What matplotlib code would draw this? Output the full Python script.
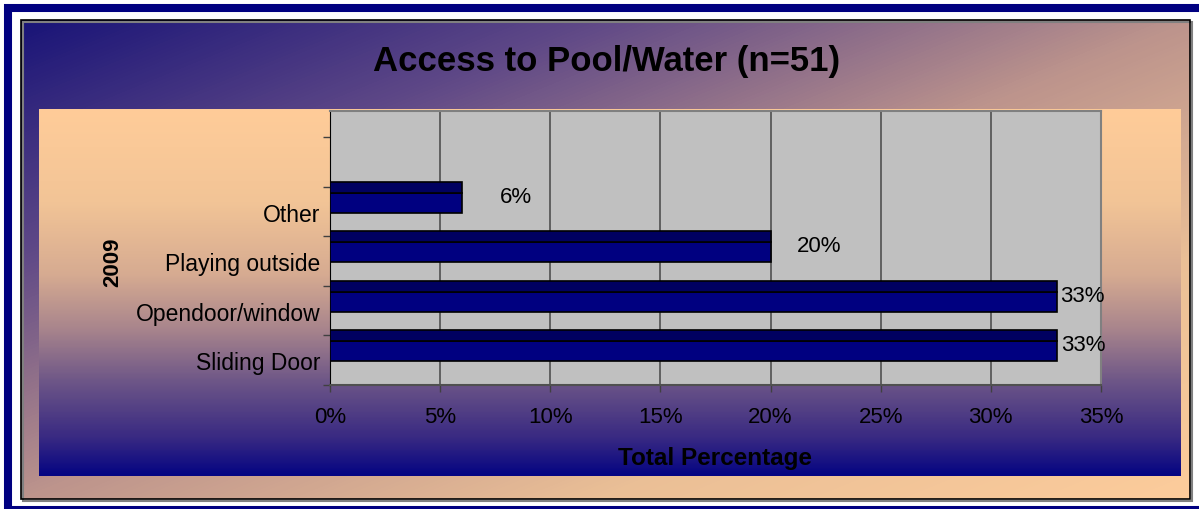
import numpy as np
import matplotlib
matplotlib.use('Agg')
import matplotlib.pyplot as plt
from matplotlib.colors import LinearSegmentedColormap
from matplotlib.patches import Rectangle

plt.rcParams['font.family'] = ['Liberation Sans', 'DejaVu Sans']

# Data
categories = ['Sliding Door', 'Opendoor/window', 'Playing outside', 'Other']
values = [33, 33, 20, 6]
value_labels = ['33%', '33%', '20%', '6%']
label_offsets_px = [4, 3, 26, 38]   # Excel put the labels a bit off the bar end
xticks = [0, 5, 10, 15, 20, 25, 30, 35]

W, H = 1199, 510
fig = plt.figure(figsize=(W / 100, H / 100), dpi=100)
fig.patch.set_facecolor('white')

# background layer in pixel coords
bg = fig.add_axes([0, 0, 1, 1], zorder=-1)
bg.axis('off')

navy = '#000080'

# chart area, diagonal gradient
outer_cmap = LinearSegmentedColormap.from_list('outer', [
    (0.0, (0.10, 0.08, 0.47)),
    (0.25, (0.38, 0.29, 0.53)),
    (0.5, (0.74, 0.58, 0.55)),
    (0.75, (0.92, 0.75, 0.59)),
    (1.0, (0.99, 0.80, 0.61))])
x0, x1, y0, y1 = 21, 1190, 21, 500
u = np.linspace(0, 1, 300)
v = np.linspace(0, 1, 150)
grad = 0.5 * (u[None, :] + v[:, None])
bg.imshow(grad, cmap=outer_cmap, extent=(x0, x1, y1, y0), aspect='auto', interpolation='bilinear')

# plot area, vertical gradient
inner_cmap = LinearSegmentedColormap.from_list('inner', [
    (0.0, (1.00, 0.80, 0.60)),
    (0.25, (0.95, 0.77, 0.59)),
    (0.45, (0.84, 0.67, 0.57)),
    (0.6, (0.66, 0.52, 0.55)),
    (0.75, (0.42, 0.33, 0.53)),
    (0.9, (0.22, 0.16, 0.51)),
    (1.0, (0.02, 0.02, 0.51))])
grad2 = np.linspace(0, 1, 200)[:, None]
bg.imshow(grad2, cmap=inner_cmap, extent=(39, 1181, 477, 110), aspect='auto', interpolation='bilinear')

bg.add_patch(Rectangle((x0 + 2, y0 + 2), x1 - x0, y1 - y0, fill=False, ec='#808080', lw=1.5))
bg.add_patch(Rectangle((x0, y0), x1 - x0, y1 - y0, fill=False, ec='black', lw=1.2))
# navy frame: top, left and bottom only (right side is cut off)
bg.plot([4, W], [8.5, 8.5], color=navy, lw=5.8, solid_capstyle='butt')
bg.plot([8, 8], [4.5, H], color=navy, lw=5.8, solid_capstyle='butt')
bg.plot([4, W], [510.5, 510.5], color=navy, lw=5.8, solid_capstyle='butt')
bg.set_xlim(0, W)
bg.set_ylim(H, 0)

fig.text(607 / W, 1 - 61 / H, 'Access to Pool/Water (n=51)', ha='center', va='center',
         fontsize=25, fontweight='bold', color='black')

# main axes
ax = fig.add_axes([330 / W, 1 - 386 / H, 771 / W, 274 / H])
ax.set_facecolor('#c0c0c0')
ypos = np.arange(len(categories))

ax.barh(ypos + 0.18, values, height=0.41, color='#000080', edgecolor='black', linewidth=1.2, zorder=3)
ax.barh(ypos + 0.495, values, height=0.22, color='#000060', edgecolor='black', linewidth=1.2, zorder=3)

for y, v, lab, off in zip(ypos, values, value_labels, label_offsets_px):
    ax.annotate(lab, (v, y + 0.31), xytext=(off * 0.72, 0), textcoords='offset points',
                ha='left', va='center', fontsize=16, color='black', zorder=4)

ax.set_xlim(0, 35)
ax.set_ylim(-0.5, 5.03)
ax.set_xticks(xticks)
ax.set_xticklabels([f'{t}%' for t in xticks], fontsize=16)
ax.set_yticks(np.arange(-0.5, 5.0, 1.0))
ax.set_yticklabels([])
ax.set_yticks(ypos, minor=True)
ax.set_yticklabels(categories, minor=True, fontsize=16.5)
ax.tick_params(axis='y', which='minor', length=0, pad=7)
ax.tick_params(axis='y', which='major', length=5, color='#404040', width=1)
ax.tick_params(axis='x', length=5, color='#404040', width=1, pad=10)

for t in xticks[1:-1]:
    ax.axvline(t, color='#505050', lw=1.2, zorder=1)

ax.spines['top'].set_color('#808080')
ax.spines['right'].set_color('#808080')
ax.spines['top'].set_linewidth(1.5)
ax.spines['right'].set_linewidth(1.5)
ax.spines['left'].set_color('black')
ax.spines['bottom'].set_color('#505050')
ax.spines['bottom'].set_linewidth(1.5)

fig.text(715 / W, 1 - 459 / H, 'Total Percentage', ha='center', va='center',
         fontsize=17.5, fontweight='bold')
fig.text(113 / W, 1 - 262 / H, '2009', ha='center', va='center', rotation=90,
         fontsize=16, fontweight='bold')

fig.savefig('out.png', dpi=100)
